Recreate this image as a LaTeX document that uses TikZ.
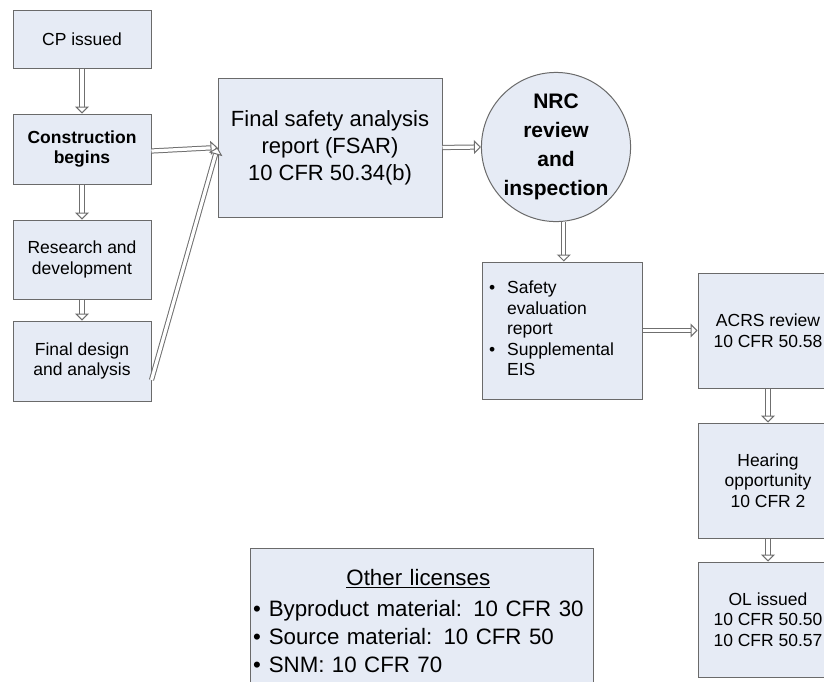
\documentclass[tikz,border=0pt]{standalone}
\usepackage{fontspec}
\setmainfont{Liberation Sans}
\usetikzlibrary{arrows.meta,positioning}
\definecolor{BoxFill}{HTML}{E6EBF5}
\definecolor{BoxLine}{HTML}{6A6A6A}
\definecolor{ArrLine}{HTML}{6F6F6F}
\newcommand{\boxfont}{\fontsize{17.5}{20.5}\selectfont}
\newcommand{\bigboxfont}{\fontsize{22}{27}\selectfont}

\begin{document}
\begin{tikzpicture}[x=1pt,y=-1pt,
  stepbox/.style={draw=BoxLine,fill=BoxFill,line width=1pt,align=center,
    font=\boxfont,inner sep=2pt,minimum width=138pt},
  sidebox/.style={stepbox,minimum width=140pt,minimum height=115pt},
  flow/.style={draw=ArrLine,double=white,double distance=3.2pt,line width=1pt,
    -{Triangle[open,length=7pt,width=14pt,fill=white]}}]
  \clip (0,0) rectangle (824,681);
  % left column
  \node[stepbox,minimum height=58pt] (cp) at (82,39) {CP issued};
  \node[stepbox,minimum height=70pt,below=45pt of cp,font=\boxfont\bfseries] (cons) {Construction\\begins};
  \node[stepbox,minimum height=79pt,below=35pt of cons] (rnd) {Research and\\development};
  \node[stepbox,minimum height=80pt,below=21pt of rnd] (fda) {Final design\\and analysis};
  % report and review
  \node[stepbox,minimum width=224pt,minimum height=139pt,font=\bigboxfont] (fsar) at (330,147.5)
    {Final safety analysis\\report (FSAR)\\10 CFR 50.34(b)};
  \node[draw=BoxLine,fill=BoxFill,line width=1pt,circle,minimum size=124pt,inner sep=0pt,
    align=center,font=\fontsize{21}{29}\selectfont\bfseries] (nrc) at (556,147)
    {NRC\\review\\and\\inspection};
  \node[stepbox,minimum width=160pt,minimum height=137pt,text width=146pt,align=left,
    inner xsep=7pt] (ser) at (562,330.5)
    {\begin{tabular}{@{}l@{\hspace{12pt}}l@{}}
      • & Safety\\ & evaluation\\ & report\\
      • & Supplemental\\ & EIS
    \end{tabular}};
  % right column
  \node[sidebox] (acrs) at (768,330.5) {ACRS review\\10 CFR 50.58};
  \node[sidebox,below=34pt of acrs] (hear) {Hearing\\opportunity\\10 CFR 2};
  \node[sidebox,below=23pt of hear] (ol) {OL issued\\10 CFR 50.50\\10 CFR 50.57};
  % other licenses
  \node[stepbox,minimum width=343pt,minimum height=150pt,anchor=north,text width=337pt,
    align=left,inner xsep=3pt,font=\fontsize{22.3}{28}\selectfont] (oth) at (421.5,548)
    {\begin{tabular}{@{}l@{\hspace{8pt}}l@{}}
      \multicolumn{2}{c}{\underline{Other licenses}}\\[3pt]
      • & Byproduct material: 10 CFR 30\\
      • & Source material: 10 CFR 50\\
      • & SNM: 10 CFR 70
    \end{tabular}\\[10pt]};
  % connectors
  \draw[flow] (cp) -- (cons);
  \draw[flow] (cons) -- (rnd);
  \draw[flow] (rnd) -- (fda);
  \draw[flow] ([yshift=-2pt]cons.east) -- (fsar.west);
  \draw[flow] ([yshift=-19pt]fda.east) -- (fsar.west);
  \draw[flow] (fsar.east) -- (nrc.west);
  \draw[flow] (nrc.-84) -- (nrc.-84 |- ser.north);
  \draw[flow] (ser.east) -- (acrs.west);
  \draw[flow] (acrs) -- (hear);
  \draw[flow] (hear) -- (ol);
\end{tikzpicture}
\end{document}
